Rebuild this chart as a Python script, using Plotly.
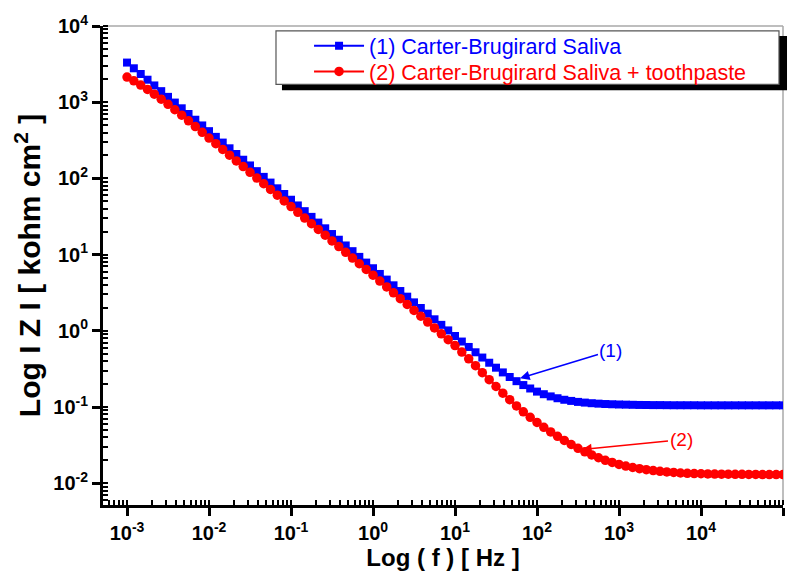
import plotly.graph_objects as go

# ---- data (log10 values) ----
log_freq = [
    -3.000, -2.917, -2.833, -2.750, -2.667, -2.583, -2.500, -2.417, -2.333, -2.250, -2.167, -2.083,
    -2.000, -1.917, -1.833, -1.750, -1.667, -1.583, -1.500, -1.417, -1.333, -1.250, -1.167, -1.083,
    -1.000, -0.917, -0.833, -0.750, -0.667, -0.583, -0.500, -0.417, -0.333, -0.250, -0.167, -0.083,
    0.000, 0.083, 0.167, 0.250, 0.333, 0.417, 0.500, 0.583, 0.667, 0.750, 0.833, 0.917,
    1.000, 1.083, 1.167, 1.250, 1.333, 1.417, 1.500, 1.583, 1.667, 1.750, 1.833, 1.917,
    2.000, 2.083, 2.167, 2.250, 2.333, 2.417, 2.500, 2.583, 2.667, 2.750, 2.833, 2.917,
    3.000, 3.083, 3.167, 3.250, 3.333, 3.417, 3.500, 3.583, 3.667, 3.750, 3.833, 3.917,
    4.000, 4.083, 4.167, 4.250, 4.333, 4.417, 4.500, 4.583, 4.667, 4.750, 4.833, 4.917,
    5.000,
]

log_z_saliva = [
    3.520, 3.445, 3.370, 3.295, 3.220, 3.145, 3.070, 2.995, 2.920, 2.845, 2.770, 2.695,
    2.620, 2.545, 2.470, 2.395, 2.320, 2.245, 2.170, 2.095, 2.020, 1.945, 1.870, 1.795,
    1.720, 1.645, 1.570, 1.495, 1.420, 1.345, 1.270, 1.195, 1.120, 1.045, 0.970, 0.895,
    0.821, 0.746, 0.672, 0.597, 0.522, 0.448, 0.373, 0.299, 0.225, 0.151, 0.078, 0.005,
    -0.068, -0.141, -0.212, -0.282, -0.351, -0.419, -0.484, -0.546, -0.606, -0.661, -0.712, -0.757,
    -0.798, -0.832, -0.861, -0.885, -0.905, -0.920, -0.933, -0.942, -0.950, -0.956, -0.961, -0.964,
    -0.967, -0.969, -0.971, -0.973, -0.974, -0.975, -0.975, -0.976, -0.977, -0.977, -0.977, -0.977,
    -0.978, -0.978, -0.978, -0.978, -0.978, -0.978, -0.978, -0.978, -0.978, -0.978, -0.978, -0.978,
    -0.978,
]

log_z_paste = [
    3.330, 3.280, 3.225, 3.167, 3.105, 3.040, 2.972, 2.901, 2.829, 2.755, 2.680, 2.605,
    2.530, 2.455, 2.380, 2.305, 2.230, 2.155, 2.080, 2.005, 1.930, 1.855, 1.780, 1.705,
    1.630, 1.555, 1.480, 1.405, 1.330, 1.255, 1.180, 1.105, 1.030, 0.955, 0.880, 0.805,
    0.730, 0.653, 0.576, 0.499, 0.422, 0.345, 0.268, 0.191, 0.114, 0.037, -0.040, -0.117,
    -0.194, -0.279, -0.367, -0.457, -0.549, -0.641, -0.731, -0.819, -0.904, -0.986, -1.063, -1.135,
    -1.203, -1.267, -1.327, -1.384, -1.439, -1.492, -1.542, -1.588, -1.629, -1.666, -1.699, -1.728,
    -1.753, -1.775, -1.794, -1.810, -1.823, -1.834, -1.844, -1.852, -1.859, -1.866, -1.870, -1.873,
    -1.876, -1.878, -1.880, -1.881, -1.882, -1.883, -1.884, -1.885, -1.885, -1.886, -1.886, -1.887,
    -1.887,
]

series_names = ["(1) Carter-Brugirard Saliva", "(2) Carter-Brugirard Saliva + toothpaste"]

x_tick_exps = [-3, -2, -1, 0, 1, 2, 3, 4, 5]
x_tick_labels = ["10<sup>-3</sup>", "10<sup>-2</sup>", "10<sup>-1</sup>", "10<sup>0</sup>",
                 "10<sup>1</sup>", "10<sup>2</sup>", "10<sup>3</sup>", "10<sup>4</sup>",
                 "10<sup>5</sup>"]
y_tick_exps = [-2, -1, 0, 1, 2, 3, 4]
y_tick_labels = ["10<sup>-2</sup>", "10<sup>-1</sup>", "10<sup>0</sup>", "10<sup>1</sup>",
                 "10<sup>2</sup>", "10<sup>3</sup>", "10<sup>4</sup>"]

# annotation labels: (text, arrow head log-x, log-y, text log-x, log-y)
label_1 = ("(1)", 1.793, -0.623, 2.902, -0.26)
label_2 = ("(2)", 2.549, -1.558, 3.756, -1.429)

FONT = "Liberation Sans, Arial, sans-serif"
BLUE = "#0000ff"
RED = "#ff0000"

freq = [10 ** v for v in log_freq]
z1 = [10 ** v for v in log_z_saliva]
z2 = [10 ** v for v in log_z_paste]

fig = go.Figure()
fig.add_trace(go.Scatter(
    x=freq, y=z1, name=series_names[0], mode="lines+markers", legend="legend",
    line=dict(color=BLUE, width=2),
    marker=dict(symbol="square", size=8, color=BLUE, line=dict(width=0)),
))
fig.add_trace(go.Scatter(
    x=freq, y=z2, name=series_names[1], mode="lines+markers", legend="legend2",
    line=dict(color=RED, width=2),
    marker=dict(symbol="circle", size=9.5, color=RED, line=dict(width=0)),
))

x_range = [-3.293, 5]
y_range = [-2.286, 4]

tickfont = dict(family=FONT, size=20, color="black", weight="bold")
xtitlefont = dict(family=FONT, size=24, color="black", weight="bold")
ytitlefont = dict(family=FONT, size=30, color="black", weight="bold")

legend_common = dict(
    x=0.303, xanchor="left", yanchor="middle",
    bgcolor="rgba(0,0,0,0)", borderwidth=0, itemwidth=50,
)

fig.update_layout(
    width=797, height=575,
    margin=dict(l=103, r=14, t=25, b=66),
    paper_bgcolor="white", plot_bgcolor="white",
    showlegend=True,
    legend=dict(y=0.9587, font=dict(family=FONT, size=21.5, color=BLUE), **legend_common),
    legend2=dict(y=0.905, font=dict(family=FONT, size=21.5, color=RED), **legend_common),
    xaxis=dict(
        type="log", range=x_range,
        tickmode="array", tickvals=[10 ** e for e in x_tick_exps], ticktext=x_tick_labels,
        ticks="outside", ticklen=8, tickwidth=3, tickcolor="black",
        showline=True, linewidth=3, linecolor="black",
        showgrid=False, zeroline=False,
        tickfont=tickfont,
        title=dict(text="Log ( f ) [ Hz ]", font=xtitlefont, standoff=2),
        minor=dict(dtick="D1", ticks="inside", ticklen=5, tickwidth=2, tickcolor="black",
                   showgrid=False),
    ),
    yaxis=dict(
        type="log", range=y_range,
        tickmode="array", tickvals=[10 ** e for e in y_tick_exps], ticktext=y_tick_labels,
        ticks="outside", ticklen=8, tickwidth=3, tickcolor="black",
        showline=True, linewidth=3, linecolor="black",
        showgrid=False, zeroline=False,
        tickfont=tickfont,
        title=dict(text="Log I Z I [ kohm cm<sup>2</sup> ]", font=ytitlefont, standoff=4),
        minor=dict(dtick="D1", ticks="inside", ticklen=5, tickwidth=2, tickcolor="black",
                   showgrid=False),
    ),
    xaxis2=dict(
        type="log", range=x_range, overlaying="x", side="bottom", anchor="y",
        tickmode="array", tickvals=[10 ** e for e in x_tick_exps],
        ticks="inside", ticklen=8, tickwidth=3, tickcolor="black",
        showticklabels=False, showline=False, showgrid=False, zeroline=False,
    ),
    yaxis2=dict(
        type="log", range=y_range, overlaying="y", side="left", anchor="x",
        tickmode="array", tickvals=[10 ** e for e in y_tick_exps],
        ticks="inside", ticklen=8, tickwidth=3, tickcolor="black",
        showticklabels=False, showline=False, showgrid=False, zeroline=False,
    ),
)

# thin grey frame on top and right
fig.add_shape(type="line", xref="paper", yref="paper", x0=0, x1=1, y0=1, y1=1,
              line=dict(color="#a8a8a8", width=1.5), layer="below")
fig.add_shape(type="line", xref="paper", yref="paper", x0=1, x1=1, y0=0, y1=1,
              line=dict(color="#a8a8a8", width=1.5), layer="below")

# legend box with drop shadow (drawn beneath the legend entries)
fig.add_shape(type="rect", xref="paper", yref="paper",
              x0=0.2632, x1=1.0059, y0=0.8657, y1=0.9793,
              fillcolor="black", line=dict(width=0), layer="below")
fig.add_shape(type="rect", xref="paper", yref="paper",
              x0=0.2544, x1=0.9941, y0=0.8781, y1=0.9897,
              fillcolor="white", line=dict(color="#555555", width=1.2), layer="below")

for (txt, hx, hy, tx, ty), col in ((label_1, BLUE), (label_2, RED)):
    fig.add_annotation(
        x=hx, y=hy, ax=tx, ay=ty, xref="x", yref="y", axref="x", ayref="y",
        text=txt, showarrow=True, arrowhead=2, arrowsize=1.2, arrowwidth=1.6,
        arrowcolor=col, font=dict(family=FONT, size=19, color=col),
    )

fig.write_html("out.html")
